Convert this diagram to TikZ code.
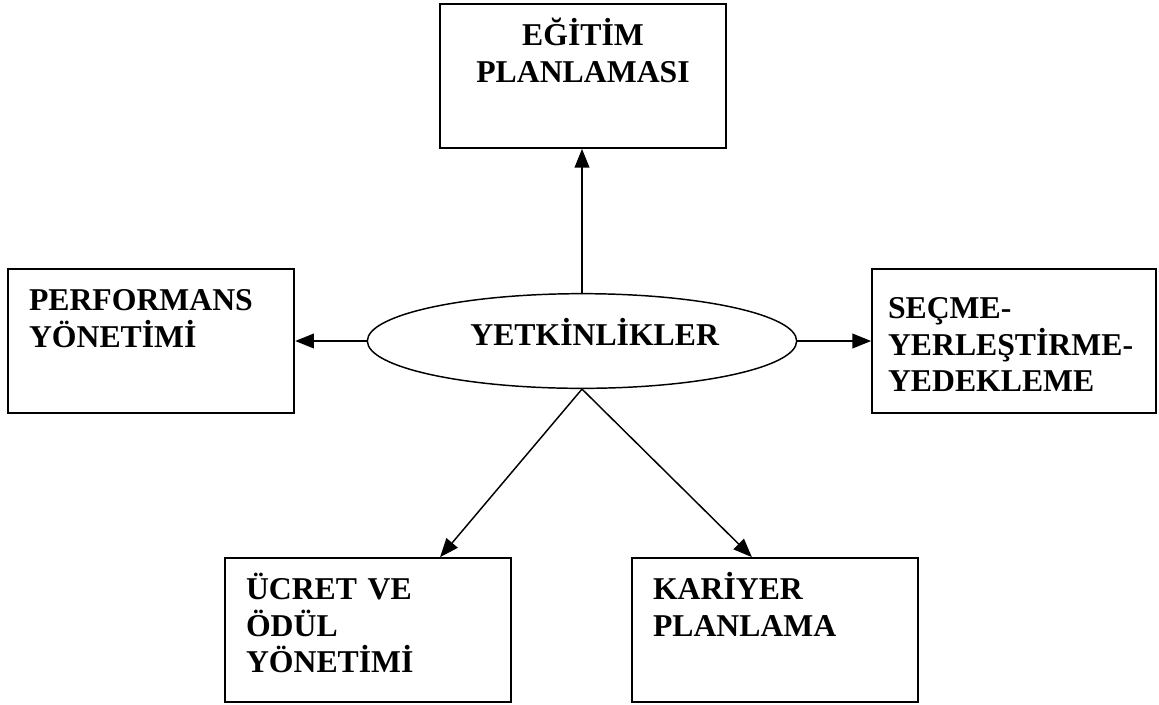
\documentclass[tikz,border=0pt]{standalone}
\usepackage{fontspec}
\setmainfont{Liberation Serif}
\usepackage{tikz}
\usetikzlibrary{calc,shapes,positioning}
\usetikzlibrary{arrows.meta}
\tikzset{>={Triangle[length=14pt,width=11pt]}}

\begin{document}
\begin{tikzpicture}[x=0.75pt,y=-0.75pt]
      \tikzstyle{kutu} = [line width=1.3pt, draw=black, rectangle, inner xsep=16pt, inner ysep=0pt, text width=183pt, text height=31pt, text depth=77pt, align=left, font=\fontsize{23.8}{27.5}\selectfont\bfseries]
      \tikzstyle{enode} = [line width=1.1pt, draw=black, ellipse, inner sep=0pt, minimum width=322pt, minimum height=71pt, text height=16pt, text depth=10pt, font=\fontsize{23.8}{27.5}\selectfont\bfseries]
      \useasboundingbox (0,0) rectangle (1159,704);

      \node[enode] (yet) at (582,341) {\hspace*{19pt}YETKİNLİKLER};

      \node[kutu, align=center] (egitim) at (583,76) {EĞİTİM\\PLANLAMASI};
      \node[kutu] (perf) at (151,341) {PERFORMANS\\YÖNETİMİ};
      \node[kutu, inner xsep=12pt, text width=189pt, text height=37pt, text depth=71pt] (secme) at (1014,341) {SEÇME-\\YERLEŞTİRME-\\YEDEKLEME};
      \node[kutu] (ucret) at (368,630) {ÜCRET VE\\ÖDÜL\\YÖNETİMİ};
      \node[kutu] (kariyer) at (775,630) {KARİYER\\PLANLAMA};

      % edges from the ellipse
      \draw[->, line width=1.1pt] (yet.north) -- (yet.north |- egitim.south);
      \draw[->, line width=1.1pt] (yet.west) -- (perf.east);
      \draw[->, line width=1.1pt] (yet.east) -- (secme.west);
      \draw[->, line width=1.1pt] (yet.south) -- ($(ucret.north)!0.5!(ucret.north east)$);
      \draw[->, line width=1.1pt] (yet.south) -- ($(kariyer.north west)!0.84!(kariyer.north)$);
\end{tikzpicture}
\end{document}
